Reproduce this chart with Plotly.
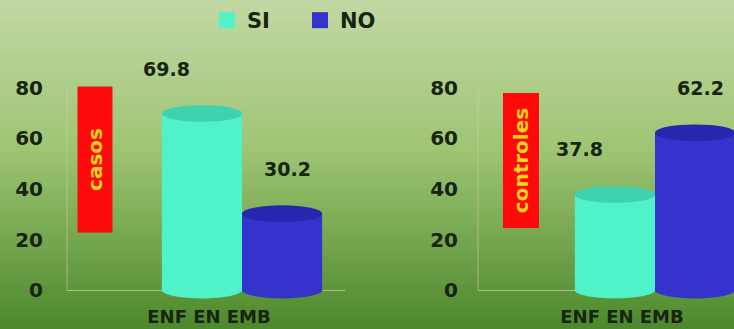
import plotly.graph_objects as go

# ---------------- data ----------------
category = ["ENF EN EMB"]
panels = ["casos", "controles"]
series_names = ["SI", "NO"]
si_values = [69.8, 37.8]    # casos, controles
no_values = [30.2, 62.2]    # casos, controles
y_tick_values = [0, 20, 40, 60, 80]
y_tick_text = ["0", "20", "40", "60", "80"]

# ---------------- style ----------------
W, H = 734, 329
SI_COLOR = "#50F2C8"
SI_TOP = "#3ED2AE"
NO_COLOR = "#3434CC"
NO_TOP = "#2626AE"
TEXT = "#17240f"
FONT = "DejaVu Sans"

def py(p):  # pixel y -> paper y
    return 1 - p / H

def px(p):  # pixel x -> paper x
    return p / W

YRANGE = [-5, 90]
ydom = [py(302.7), py(61.6)]
BARGAP = 0.19
bar_w = (1 - BARGAP) / 2
offsets = [-bar_w / 2, bar_w / 2]

fig = go.Figure()

# background gradient (bands)
stops = [(0.0, (194, 216, 164)), (0.45, (158, 197, 116)), (1.0, (76, 136, 44))]
def interp(t):
    for (t0, c0), (t1, c1) in zip(stops[:-1], stops[1:]):
        if t <= t1:
            f = (t - t0) / (t1 - t0)
            return tuple(round(a + (b - a) * f) for a, b in zip(c0, c1))
    return stops[-1][1]
NB = 70
shapes = []
for i in range(NB):
    c = interp((i + 0.5) / NB)
    shapes.append(dict(type="rect", xref="paper", yref="paper", x0=-0.01, x1=1.01,
                       y0=(1 - (i + 1) / NB - 0.002) if i < NB - 1 else -0.02,
                       y1=(1 - i / NB) if i > 0 else 1.02,
                       fillcolor="rgb(%d,%d,%d)" % c, line=dict(width=0), layer="below"))

xdomains = [[px(67), px(345)], [px(478), 1.0]]
xranges = [[-0.8843, 0.5205], [-0.8944, 0.3992]]
ylab_standoff = [23, 19]
cols = [SI_COLOR, NO_COLOR]
tops = [SI_TOP, NO_TOP]

annotations = []
for k, panel in enumerate(panels):
    xa = "x" if k == 0 else "x2"
    ya = "y" if k == 0 else "y2"
    vals = [si_values[k], no_values[k]]
    # wall line of the axis, from 0 to the top tick
    shapes.append(dict(type="line", xref=xa + " domain", yref=ya, x0=0, x1=0, y0=y_tick_values[0],
                       y1=y_tick_values[-1], line=dict(color="rgba(215,200,170,0.6)", width=1)))
    for j, name in enumerate(series_names):
        fig.add_trace(go.Bar(x=category, y=[vals[j]], name=name, marker=dict(color=cols[j], line=dict(width=0)),
                             xaxis=xa, yaxis=ya, showlegend=False, offsetgroup=str(j)))
        cx = offsets[j]
        # cylinder caps derived from the data values
        shapes.append(dict(type="circle", xref=xa, yref=ya, x0=cx - bar_w / 2, x1=cx + bar_w / 2,
                           y0=-3.3, y1=3.3, fillcolor=cols[j], line=dict(width=0), layer="above"))
        shapes.append(dict(type="circle", xref=xa, yref=ya, x0=cx - bar_w / 2, x1=cx + bar_w / 2,
                           y0=vals[j] - 3.3, y1=vals[j] + 3.3, fillcolor=tops[j], line=dict(width=0), layer="above"))
        annotations.append(dict(x=cx, y=vals[j], xref=xa, yref=ya, text="%.1f" % vals[j], showarrow=False,
                                xshift=(-35 if j == 0 else 5), yshift=45, yanchor="middle",
                                font=dict(family=FONT, size=19, color=TEXT, weight="bold")))

# legend entries (square swatches)
for j, name in enumerate(series_names):
    fig.add_trace(go.Scatter(x=[None], y=[None], mode="markers", name=name,
                             marker=dict(symbol="square", size=18, color=cols[j]), showlegend=True))

# panel labels (red boxes)
box_specs = [(95, 159.5, 34, 145), (521, 160, 35, 134)]
for k, panel in enumerate(panels):
    cxp, cyp, bw, bh = box_specs[k]
    annotations.append(dict(x=px(cxp), y=py(cyp), xref="paper", yref="paper", text=panel, showarrow=False,
                            textangle=-90, width=bh, height=bw, bgcolor="#FF0A0A", borderpad=0,
                            xanchor="center", yanchor="middle",
                            font=dict(family=FONT, size=20, color="#FFD21E", weight="bold")))

common_x = dict(type="category", showgrid=False, zeroline=False, showline=False, ticks="",
                tickfont=dict(family=FONT, size=18, color=TEXT, weight="bold"), ticklabelshift=-33,
                ticklabelstandoff=1)
common_y = dict(range=YRANGE, domain=ydom, tickvals=y_tick_values, ticktext=y_tick_text, showgrid=False,
                zeroline=True, zerolinecolor="rgba(225,235,205,0.55)", zerolinewidth=1,
                showline=False, ticks="",
                tickfont=dict(family=FONT, size=20, color=TEXT, weight="bold"))

fig.update_layout(
    width=W, height=H, margin=dict(l=0, r=0, t=0, b=0),
    paper_bgcolor="rgb(194,216,164)", plot_bgcolor="rgba(0,0,0,0)",
    barmode="group", bargap=BARGAP, bargroupgap=0,
    xaxis=dict(common_x, domain=xdomains[0], range=xranges[0], anchor="y"),
    xaxis2=dict(common_x, domain=xdomains[1], range=xranges[1], anchor="y2"),
    yaxis=dict(common_y, anchor="x", ticklabelstandoff=ylab_standoff[0]),
    yaxis2=dict(common_y, anchor="x2", ticklabelstandoff=ylab_standoff[1]),
    shapes=shapes, annotations=annotations,
    legend=dict(orientation="h", x=px(207), y=py(20), xanchor="left", yanchor="middle",
                bgcolor="rgba(0,0,0,0)", font=dict(family=FONT, size=21, color=TEXT, weight="bold"),
                entrywidth=48, entrywidthmode="pixels", traceorder="normal"),
    showlegend=True,
)

fig.write_html("out.html")
